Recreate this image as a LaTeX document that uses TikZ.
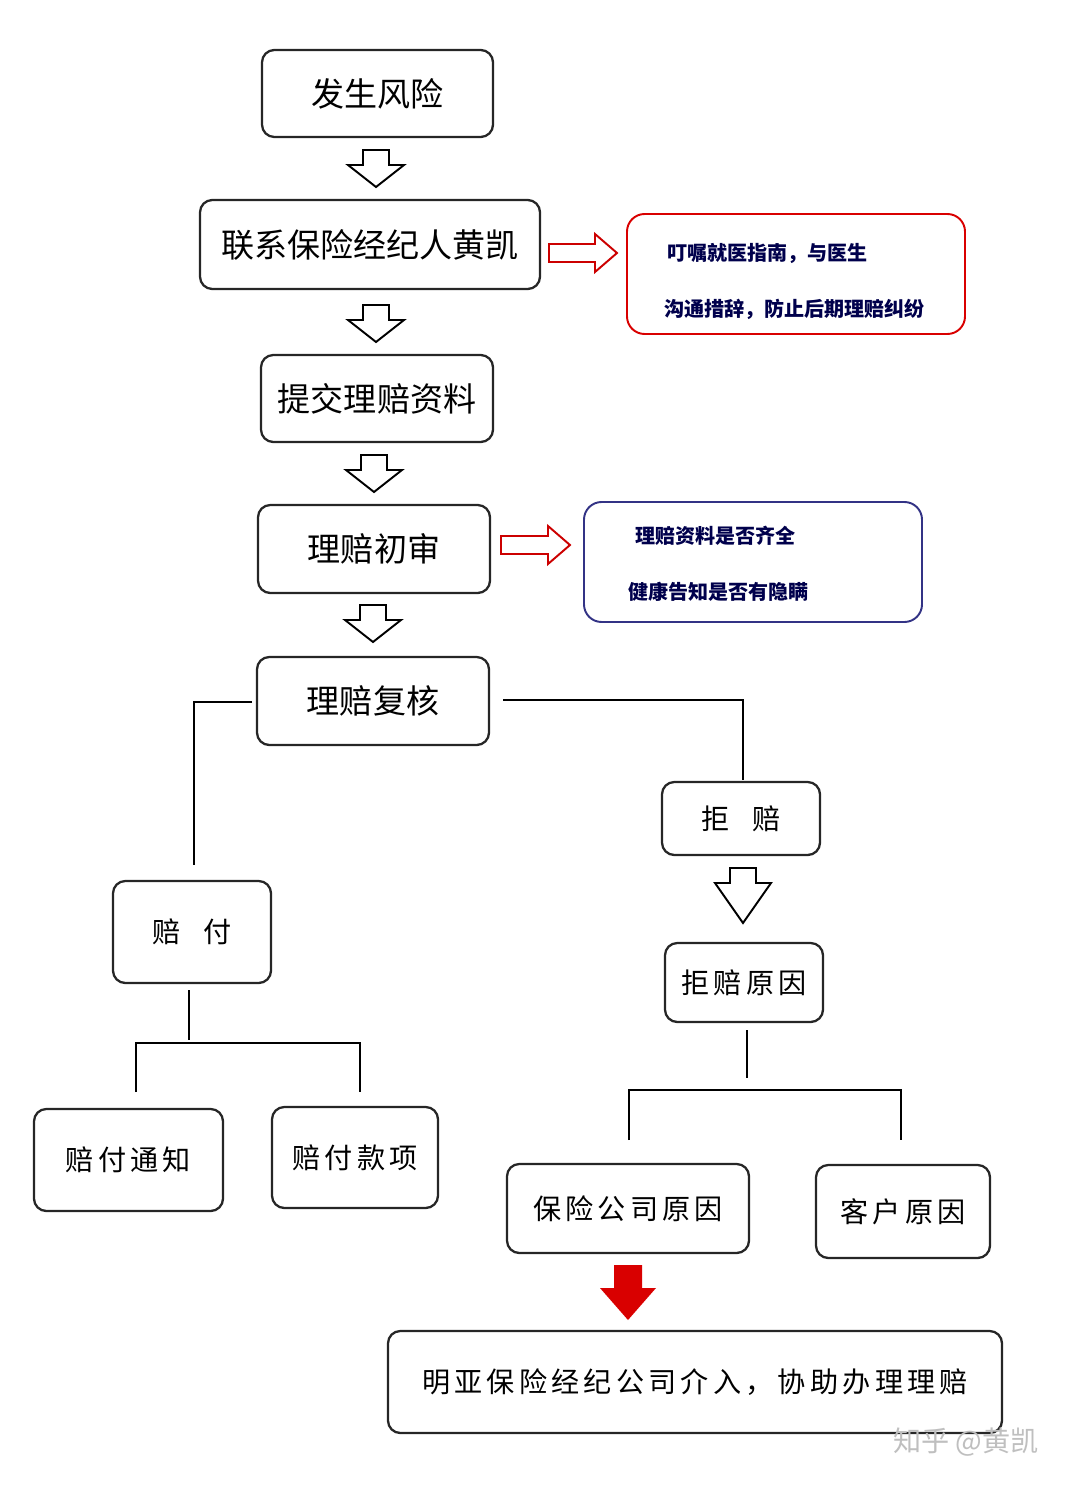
\documentclass[tikz,border=0pt]{standalone}
\usepackage{fontspec}
\setmainfont{Noto Sans CJK SC}
\begin{document}
\begin{tikzpicture}[x=0.01cm,y=-0.01cm,
box/.style={draw=black!85,line width=0.65pt,rounded corners=3.5pt},
note/.style={line width=0.55pt,rounded corners=5pt},
ln/.style={line width=0.8pt},
nt/.style={anchor=west,text=blue!30!black,font=\fontsize{5.7pt}{6pt}\selectfont\bfseries},
]
\useasboundingbox (0,0) rectangle (1080,1488);
\newcommand{\bx}[6]{\draw[box] (#2,#3) rectangle (#4,#5); \node (#1) at ({(#2+#4)/2},{(#3+#5)/2}) {#6};}
\newcommand{\bigf}{\fontsize{9.4pt}{10pt}\selectfont}
\newcommand{\midf}{\addfontfeatures{LetterSpace=15}\fontsize{8pt}{9pt}\selectfont}
\bx{a}{262}{50}{493}{137}{\bigf 发生风险}
\bx{b}{200}{200}{540}{289}{\bigf 联系保险经纪人黄凯}
\bx{c}{261}{355}{493}{442}{\bigf 提交理赔资料}
\bx{d}{258}{505}{490}{593}{\bigf 理赔初审}
\bx{e}{257}{657}{489}{745}{\bigf 理赔复核}
\bx{f}{662}{782}{820}{855}{\midf 拒\hspace{0.8em}赔}
\bx{g}{113}{881}{271}{983}{\midf 赔\hspace{0.8em}付}
\bx{h}{665}{943}{823}{1022}{\midf 拒赔原因}
\bx{i}{34}{1109}{223}{1211}{\midf 赔付通知}
\bx{j}{272}{1107}{438}{1208}{\midf 赔付款项}
\bx{k}{507}{1164}{749}{1253}{\midf 保险公司原因}
\bx{l}{816}{1165}{990}{1258}{\midf 客户原因}
\bx{m}{388}{1331}{1002}{1433}{\midf 明亚保险经纪公司介入，协助办理理赔}
% notes
\draw[note,draw=red!85!black] (627,214) rectangle (965,334);
\node[nt] (n1) at (655,253) {叮嘱就医指南，与医生};
\node[nt] (n2) at (652,309) {沟通措辞，防止后期理赔纠纷};
\draw[note,draw=blue!40!black!80] (584,502) rectangle (922,622);
\node[nt] (n3) at (623,536) {理赔资料是否齐全};
\node[nt] (n4) at (616,592) {健康告知是否有隐瞒};
% hollow arrows down
\foreach \xx/\ya/\yb in {376/150/187, 376/305/342, 374/455/492, 373/605/642, 743/868/923}{
 \draw[line width=0.55pt,fill=white] (\xx-13,\ya) -- (\xx+13,\ya) -- (\xx+13,\ya+15) -- (\xx+28,\ya+15) -- (\xx,\yb) -- (\xx-28,\ya+15) -- (\xx-13,\ya+15) -- cycle;}
% hollow red right arrows
\foreach \xa/\xb/\yy in {549/617/253, 501/570/545}{
 \draw[line width=0.55pt,draw=red!80!black,fill=white] (\xa,\yy-9) -- (\xb-22,\yy-9) -- (\xb-22,\yy-19) -- (\xb,\yy) -- (\xb-22,\yy+19) -- (\xb-22,\yy+9) -- (\xa,\yy+9) -- cycle;}
% red solid arrow
\fill[red!85!black] (614,1265) -- (642,1265) -- (642,1288) -- (656,1288) -- (628,1320) -- (600,1288) -- (614,1288) -- cycle;
% connectors
\coordinate (p1) at (194,865); \coordinate (p2) at (743,780);
\draw[ln] (252,702) -- (194,702) -- (p1);
\draw[ln] (503,700) -- (743,700) -- (p2);
\draw[ln] (189,990) -- (189,1040);
\draw[ln] (136,1092) -- (136,1043) -- (360,1043) -- (360,1092);
\draw[ln] (747,1030) -- (747,1078);
\draw[ln] (629,1140) -- (629,1090) -- (901,1090) -- (901,1140);
\node[text=black!25,font=\fontsize{8pt}{9pt}\selectfont] (w) at (966,1442) {知乎 @黄凯};
\end{tikzpicture}
\end{document}
